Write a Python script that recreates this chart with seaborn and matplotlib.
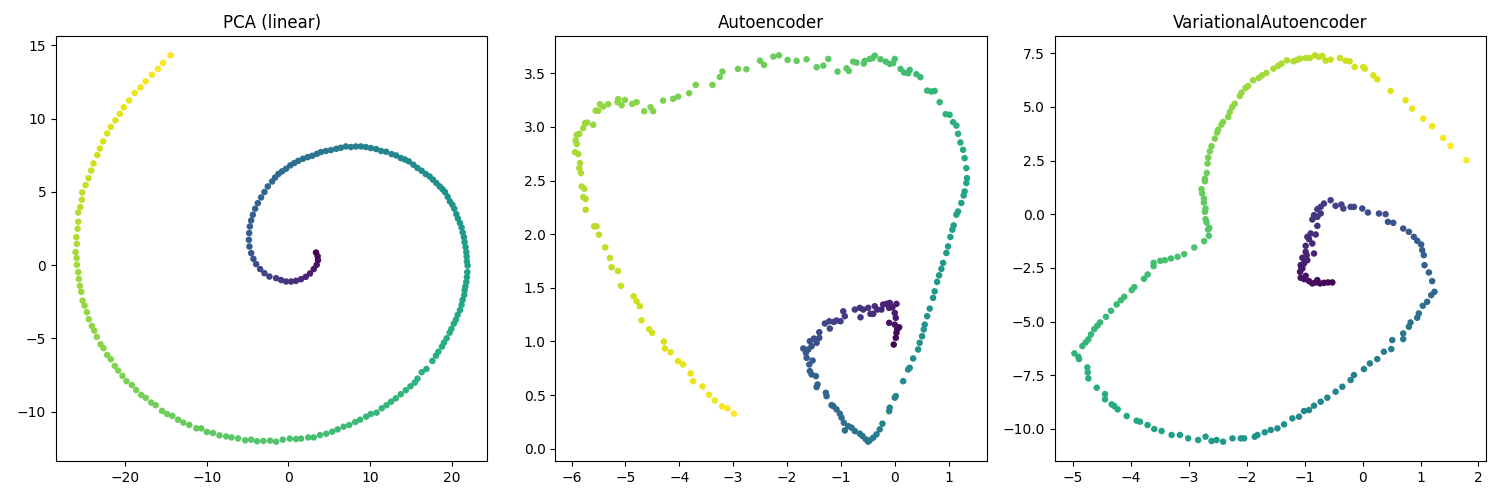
import matplotlib
matplotlib.use("Agg")
import matplotlib.pyplot as plt
import seaborn as sns
import pandas as pd

titles = ["PCA (linear)", "Autoencoder", "VariationalAutoencoder"]

# ---------------- PCA (linear) ----------------
pca_x = [
    -14.43, -15.36, -15.97, -16.70, -17.48, -18.13, -18.83, -19.51, -20.17, -20.66,
    -21.19, -21.76, -22.20, -22.69, -23.10, -23.42, -23.88, -24.16, -24.49, -24.85,
    -25.26, -25.31, -25.50, -25.75, -25.75, -25.83, -25.99, -25.92, -26.08, -25.95,
    -25.92, -25.75, -25.67, -25.55, -25.38, -25.22, -24.98, -24.69, -24.45, -24.08,
    -23.79, -23.47, -23.02, -22.65, -22.20, -21.76, -21.27, -20.86, -20.33, -19.84,
    -19.19, -18.66, -18.04, -17.48, -16.82, -16.26, -15.48, -14.87, -14.22, -13.52,
    -12.87, -12.14, -11.28, -10.67, -9.98, -9.24, -8.44, -7.62, -6.97, -6.15,
    -5.29, -4.56, -3.83, -3.06, -2.24, -1.50, -0.69, 0.17, 0.94, 1.55,
    2.44, 3.11, 3.88, 4.65, 5.38, 6.04, 6.77, 7.46, 8.19, 8.80,
    9.54, 10.11, 10.81, 11.45, 12.03, 12.59, 13.17, 13.78, 14.39, 14.96,
    15.49, 15.82, 16.34, 16.92, 17.65, 18.09, 18.38, 18.83, 19.07, 19.40,
    19.77, 19.98, 20.29, 20.54, 20.75, 21.03, 21.23, 21.36, 21.56, 21.60,
    21.69, 21.81, 21.88, 21.93, 21.97, 21.88, 21.85, 21.81, 21.72, 21.60,
    21.52, 21.36, 21.23, 21.03, 20.78, 20.59, 20.34, 20.10, 19.80, 19.52,
    19.19, 18.88, 18.55, 18.14, 17.73, 17.32, 16.83, 16.34, 15.82, 15.33,
    14.76, 14.27, 13.78, 13.20, 12.64, 11.98, 11.37, 10.76, 10.11, 9.50,
    8.89, 8.28, 7.67, 7.05, 6.44, 5.87, 5.22, 4.61, 4.00, 3.51,
    2.93, 2.37, 1.80, 1.22, 0.73, 0.24, -0.28, -0.77, -1.22, -1.63,
    -1.99, -2.52, -2.93, -3.34, -3.74, -4.07, -4.35, -4.56, -4.72, -4.80,
    -4.84, -4.77, -4.56, -4.28, -3.95, -3.46, -2.93, -2.32, -1.50, -0.89,
    -0.28, 0.33, 0.94, 1.55, 2.13, 2.65, 3.11, 3.47, 3.63, 3.59, 3.39,
]
pca_y = [
    14.32, 13.80, 13.39, 13.00, 12.54, 12.13, 11.75, 11.24, 10.77, 10.33,
    9.88, 9.43, 8.99, 8.44, 7.96, 7.51, 6.94, 6.46, 5.94, 5.46,
    4.96, 4.46, 3.96, 3.59, 2.96, 2.48, 1.91, 1.45, 0.89, 0.48,
    0.02, -0.48, -0.94, -1.41, -1.82, -2.42, -2.76, -3.21, -3.69, -4.15,
    -4.47, -4.90, -5.40, -5.67, -6.13, -6.42, -6.88, -7.20, -7.56, -7.92,
    -8.18, -8.52, -8.86, -9.06, -9.38, -9.56, -9.95, -10.16, -10.29, -10.55,
    -10.75, -10.91, -11.14, -11.14, -11.39, -11.46, -11.62, -11.69, -11.76, -11.83,
    -11.96, -11.91, -12.02, -12.00, -11.98, -12.05, -11.91, -11.84, -11.87, -11.84,
    -11.76, -11.76, -11.60, -11.51, -11.37, -11.21, -11.03, -10.91, -10.71, -10.55,
    -10.34, -10.16, -10.07, -9.77, -9.56, -9.32, -9.09, -8.81, -8.54, -8.27,
    -8.02, -7.75, -7.31, -7.09, -6.54, -6.18, -5.91, -5.56, -5.29, -4.99,
    -4.61, -4.35, -3.99, -3.72, -3.39, -3.07, -2.71, -2.37, -2.03, -1.71,
    -1.46, -1.16, -0.82, -0.48, -0.03, 0.25, 0.59, 0.89, 1.23, 1.57,
    1.91, 2.23, 2.57, 2.87, 3.18, 3.48, 3.85, 4.12, 4.35, 4.67,
    4.99, 5.19, 5.37, 5.60, 5.83, 6.05, 6.22, 6.44, 6.63, 6.85,
    7.08, 7.21, 7.31, 7.49, 7.58, 7.74, 7.79, 7.92, 7.99, 8.06,
    8.10, 8.10, 8.06, 8.10, 8.01, 7.94, 7.85, 7.79, 7.72, 7.60,
    7.46, 7.37, 7.26, 7.12, 6.97, 6.81, 6.58, 6.40, 6.22, 5.98,
    5.71, 5.37, 4.99, 4.62, 4.23, 3.85, 3.44, 3.05, 2.64, 2.19,
    1.73, 1.27, 0.82, 0.43, 0.07, -0.27, -0.55, -0.78, -0.89, -1.02,
    -1.12, -1.12, -1.07, -0.96, -0.80, -0.57, -0.27, 0.02, 0.34, 0.61, 0.86,
]
pca_t = [
    1.000, 0.995, 0.990, 0.986, 0.981, 0.976, 0.971, 0.967, 0.962, 0.957,
    0.952, 0.948, 0.943, 0.938, 0.933, 0.929, 0.924, 0.919, 0.914, 0.910,
    0.905, 0.900, 0.895, 0.890, 0.886, 0.881, 0.876, 0.871, 0.867, 0.862,
    0.857, 0.854, 0.851, 0.848, 0.845, 0.842, 0.839, 0.836, 0.833, 0.830,
    0.827, 0.824, 0.821, 0.818, 0.814, 0.811, 0.808, 0.805, 0.802, 0.799,
    0.796, 0.793, 0.790, 0.787, 0.784, 0.781, 0.778, 0.775, 0.772, 0.769,
    0.766, 0.763, 0.760, 0.757, 0.754, 0.751, 0.748, 0.745, 0.742, 0.739,
    0.736, 0.733, 0.730, 0.727, 0.723, 0.720, 0.717, 0.714, 0.711, 0.708,
    0.705, 0.702, 0.699, 0.696, 0.693, 0.690, 0.687, 0.684, 0.681, 0.678,
    0.675, 0.671, 0.668, 0.665, 0.662, 0.659, 0.656, 0.653, 0.650, 0.647,
    0.644, 0.641, 0.638, 0.635, 0.632, 0.629, 0.626, 0.623, 0.620, 0.617,
    0.614, 0.611, 0.608, 0.605, 0.602, 0.599, 0.596, 0.593, 0.590, 0.587,
    0.583, 0.580, 0.577, 0.574, 0.571, 0.567, 0.564, 0.560, 0.556, 0.552,
    0.549, 0.545, 0.541, 0.537, 0.534, 0.530, 0.526, 0.522, 0.519, 0.515,
    0.511, 0.507, 0.504, 0.500, 0.496, 0.492, 0.489, 0.485, 0.481, 0.477,
    0.474, 0.470, 0.466, 0.462, 0.459, 0.455, 0.451, 0.447, 0.444, 0.440,
    0.436, 0.432, 0.429, 0.424, 0.419, 0.413, 0.408, 0.403, 0.398, 0.393,
    0.388, 0.383, 0.378, 0.373, 0.368, 0.362, 0.357, 0.352, 0.347, 0.342,
    0.337, 0.332, 0.327, 0.322, 0.317, 0.311, 0.306, 0.301, 0.296, 0.291,
    0.286, 0.273, 0.260, 0.247, 0.234, 0.221, 0.208, 0.195, 0.182, 0.169,
    0.156, 0.143, 0.127, 0.111, 0.095, 0.079, 0.064, 0.048, 0.032, 0.016, 0.000,
]

# ---------------- Autoencoder ----------------
ae_x = [
    -2.984, -3.107, -3.207, -3.342, -3.448, -3.570, -3.744, -3.792, -3.930, -4.022,
    -4.163, -4.269, -4.287, -4.504, -4.560, -4.701, -4.732, -4.793, -4.849, -5.084,
    -5.140, -5.257, -5.288, -5.375, -5.492, -5.535, -5.579, -5.739, -5.739, -5.783,
    -5.765, -5.813, -5.826, -5.857, -5.844, -5.876, -5.937, -5.905, -5.924, -5.905,
    -5.857, -5.783, -5.752, -5.709, -5.598, -5.553, -5.505, -5.474, -5.412, -5.320,
    -5.146, -5.134, -5.071, -5.010, -4.875, -4.793, -4.652, -4.534, -4.486, -4.300,
    -4.115, -4.022, -3.818, -3.694, -3.385, -3.249, -3.199, -2.910, -2.754, -2.502,
    -2.428, -2.254, -2.150, -1.989, -1.822, -1.637, -1.451, -1.327, -1.234, -1.062,
    -0.895, -0.853, -0.771, -0.710, -0.575, -0.556, -0.463, -0.413, -0.371, -0.265,
    -0.167, -0.093, -0.030, 0.000, 0.106, 0.174, 0.248, 0.278, 0.402, 0.476,
    0.601, 0.680, 0.741, 0.834, 0.945, 1.019, 1.082, 1.144, 1.175, 1.218,
    1.268, 1.297, 1.329, 1.342, 1.329, 1.297, 1.279, 1.236, 1.175, 1.144,
    1.094, 1.070, 1.032, 0.990, 0.958, 0.897, 0.866, 0.823, 0.786, 0.741,
    0.712, 0.649, 0.601, 0.556, 0.538, 0.508, 0.463, 0.434, 0.341, 0.278,
    0.248, 0.156, 0.019, 0.000, -0.093, -0.104, -0.228, -0.278, -0.339, -0.400,
    -0.463, -0.493, -0.538, -0.599, -0.649, -0.741, -0.803, -0.864, -0.927, -0.945,
    -0.988, -1.019, -1.081, -1.142, -1.173, -1.266, -1.279, -1.451, -1.433, -1.464,
    -1.544, -1.576, -1.587, -1.526, -1.637, -1.650, -1.698, -1.605, -1.544, -1.576,
    -1.501, -1.451, -1.401, -1.401, -1.297, -1.205, -1.216, -1.131, -1.081, -1.007,
    -0.956, -0.927, -0.741, -0.649, -0.636, -0.586, -0.493, -0.451, -0.400, -0.371,
    -0.326, -0.247, -0.215, -0.154, -0.104, -0.093, -0.043, 0.032, 0.000, 0.019,
    -0.104, 0.000, 0.044, 0.082, 0.032, 0.019, -0.019,
]
ae_y = [
    0.326, 0.375, 0.394, 0.450, 0.503, 0.580, 0.629, 0.701, 0.785, 0.816,
    0.899, 0.934, 0.999, 1.080, 1.114, 1.197, 1.328, 1.374, 1.421, 1.518,
    1.657, 1.691, 1.778, 1.877, 1.995, 2.073, 2.073, 2.228, 2.328, 2.346,
    2.424, 2.445, 2.570, 2.616, 2.663, 2.747, 2.765, 2.840, 2.873, 2.926,
    2.936, 2.989, 3.035, 3.041, 3.020, 3.153, 3.150, 3.212, 3.190, 3.212,
    3.231, 3.259, 3.203, 3.252, 3.215, 3.231, 3.147, 3.184, 3.147, 3.246,
    3.262, 3.283, 3.315, 3.392, 3.392, 3.466, 3.516, 3.541, 3.538, 3.618,
    3.578, 3.656, 3.668, 3.625, 3.616, 3.631, 3.557, 3.572, 3.634, 3.516,
    3.547, 3.522, 3.609, 3.600, 3.591, 3.616, 3.634, 3.641, 3.665, 3.631,
    3.609, 3.588, 3.594, 3.634, 3.541, 3.507, 3.501, 3.532, 3.492, 3.464,
    3.339, 3.330, 3.336, 3.231, 3.119, 3.113, 3.045, 3.013, 2.936, 2.855,
    2.787, 2.709, 2.616, 2.523, 2.477, 2.399, 2.361, 2.291, 2.212, 2.182,
    2.082, 2.042, 1.974, 1.886, 1.825, 1.732, 1.676, 1.616, 1.555, 1.467,
    1.406, 1.306, 1.235, 1.157, 1.111, 1.048, 0.987, 0.925, 0.841, 0.754,
    0.738, 0.629, 0.490, 0.475, 0.382, 0.350, 0.233, 0.180, 0.133, 0.102,
    0.077, 0.065, 0.087, 0.117, 0.140, 0.164, 0.196, 0.210, 0.170, 0.242,
    0.289, 0.326, 0.366, 0.397, 0.406, 0.490, 0.521, 0.574, 0.599, 0.676,
    0.692, 0.723, 0.785, 0.822, 0.847, 0.894, 0.934, 0.925, 0.955, 1.002,
    1.027, 0.987, 1.033, 1.086, 1.167, 1.120, 1.188, 1.182, 1.195, 1.188,
    1.281, 1.235, 1.297, 1.313, 1.225, 1.297, 1.313, 1.257, 1.257, 1.328,
    1.297, 1.297, 1.344, 1.350, 1.313, 1.359, 1.318, 1.350, 1.266, 1.220,
    1.173, 1.157, 1.111, 1.132, 1.080, 1.033, 0.971,
]
ae_t = [
    1.000, 0.995, 0.990, 0.985, 0.980, 0.975, 0.970, 0.965, 0.960, 0.955,
    0.950, 0.945, 0.940, 0.937, 0.933, 0.930, 0.927, 0.923, 0.920, 0.917,
    0.913, 0.910, 0.907, 0.903, 0.900, 0.897, 0.893, 0.890, 0.888, 0.885,
    0.883, 0.880, 0.878, 0.875, 0.873, 0.870, 0.868, 0.865, 0.863, 0.860,
    0.858, 0.855, 0.853, 0.850, 0.847, 0.844, 0.842, 0.839, 0.836, 0.833,
    0.830, 0.828, 0.825, 0.822, 0.819, 0.816, 0.814, 0.811, 0.808, 0.805,
    0.802, 0.800, 0.797, 0.794, 0.791, 0.788, 0.786, 0.783, 0.780, 0.777,
    0.774, 0.772, 0.769, 0.766, 0.763, 0.760, 0.758, 0.755, 0.752, 0.749,
    0.746, 0.744, 0.741, 0.738, 0.735, 0.732, 0.730, 0.727, 0.724, 0.721,
    0.718, 0.716, 0.713, 0.710, 0.705, 0.699, 0.694, 0.688, 0.683, 0.677,
    0.672, 0.666, 0.661, 0.655, 0.650, 0.644, 0.639, 0.633, 0.628, 0.622,
    0.617, 0.611, 0.606, 0.600, 0.596, 0.592, 0.588, 0.583, 0.579, 0.575,
    0.571, 0.567, 0.563, 0.558, 0.554, 0.550, 0.546, 0.542, 0.538, 0.533,
    0.529, 0.525, 0.521, 0.517, 0.513, 0.508, 0.504, 0.500, 0.493, 0.486,
    0.479, 0.471, 0.464, 0.457, 0.450, 0.443, 0.436, 0.429, 0.421, 0.414,
    0.407, 0.400, 0.395, 0.390, 0.384, 0.379, 0.374, 0.369, 0.364, 0.358,
    0.353, 0.348, 0.343, 0.338, 0.332, 0.327, 0.322, 0.317, 0.312, 0.306,
    0.301, 0.296, 0.291, 0.286, 0.280, 0.275, 0.270, 0.263, 0.256, 0.249,
    0.242, 0.235, 0.228, 0.222, 0.215, 0.208, 0.201, 0.194, 0.187, 0.180,
    0.174, 0.169, 0.163, 0.158, 0.152, 0.147, 0.141, 0.136, 0.130, 0.124,
    0.119, 0.113, 0.108, 0.102, 0.097, 0.091, 0.086, 0.080, 0.071, 0.062,
    0.053, 0.044, 0.036, 0.027, 0.018, 0.009, 0.000,
]

# ---------------- VariationalAutoencoder ----------------
vae_x = [
    -0.523, -0.598, -0.667, -0.736, -0.810, -0.868, -0.925, -1.011, -1.069, -1.080,
    -1.040, -1.069, -1.011, -1.040, -0.954, -0.983, -0.839, -0.983, -0.868, -0.954,
    -0.897, -0.810, -0.782, -0.868, -0.782, -0.724, -0.782, -0.724, -0.667, -0.552,
    -0.466, -0.367, -0.333, -0.207, -0.149, -0.006, 0.092, 0.282, 0.397, 0.437,
    0.529, 0.701, 0.799, 0.885, 0.943, 1.011, 1.029, 1.057, 1.069, 1.144,
    1.201, 1.241, 1.184, 1.115, 1.040, 0.971, 0.943, 0.828, 0.799, 0.701,
    0.701, 0.512, 0.495, 0.367, 0.253, 0.126, 0.023, -0.149, -0.207, -0.350,
    -0.466, -0.609, -0.724, -0.839, -0.925, -1.011, -1.098, -1.213, -1.356, -1.471,
    -1.586, -1.690, -1.816, -1.862, -2.046, -2.103, -2.247, -2.408, -2.522, -2.609,
    -2.712, -2.839, -3.012, -3.155, -3.298, -3.471, -3.598, -3.713, -3.845, -3.902,
    -4.074, -4.229, -4.288, -4.333, -4.448, -4.448, -4.591, -4.736, -4.747, -4.753,
    -4.897, -4.908, -4.977, -4.839, -4.782, -4.736, -4.690, -4.633, -4.581, -4.534,
    -4.431, -4.345, -4.247, -4.172, -4.115, -3.988, -3.943, -3.776, -3.713, -3.609,
    -3.609, -3.494, -3.414, -3.310, -3.195, -3.081, -2.908, -2.736, -2.655, -2.667,
    -2.649, -2.695, -2.712, -2.724, -2.712, -2.741, -2.741, -2.770, -2.782, -2.724,
    -2.724, -2.690, -2.678, -2.667, -2.638, -2.609, -2.552, -2.512, -2.494, -2.437,
    -2.409, -2.322, -2.293, -2.253, -2.207, -2.121, -2.091, -2.022, -1.977, -1.891,
    -1.793, -1.736, -1.661, -1.540, -1.460, -1.402, -1.310, -1.195, -1.138, -1.080,
    -0.983, -0.908, -0.822, -0.753, -0.695, -0.638, -0.552, -0.391, -0.293, -0.224,
    -0.138, 0.012, 0.040, 0.184, 0.253, 0.483, 0.741, 0.856, 1.046, 1.201,
    1.391, 1.517, 1.793,
    -0.983, -0.782, -1.057, -0.966, -0.925, -0.839,
]
vae_y = [
    -3.180, -3.180, -3.197, -3.227, -3.180, -3.227, -3.119, -3.026, -2.964, -2.686,
    -2.530, -2.374, -2.297, -2.033, -2.142, -1.754, -1.831, -1.474, -1.366, -1.055,
    -0.899, -0.946, -0.543, -0.248, -0.124, 0.031, 0.233, 0.341, 0.497, 0.652,
    0.388, 0.450, 0.264, 0.341, 0.341, 0.264, 0.078, 0.031, 0.000, -0.357,
    -0.403, -0.667, -0.822, -1.055, -1.241, -1.412, -1.676, -1.909, -2.374, -2.716,
    -3.119, -3.615, -3.771, -4.081, -4.267, -4.624, -4.826, -5.043, -5.245, -5.556,
    -5.819, -5.866, -6.285, -6.409, -6.750, -6.952, -7.216, -7.495, -7.728, -8.040,
    -8.271, -8.550, -8.737, -8.923, -9.125, -9.171, -9.435, -9.513, -9.792, -9.978,
    -10.056, -10.164, -10.288, -10.366, -10.444, -10.444, -10.444, -10.599, -10.521, -10.568,
    -10.366, -10.521, -10.444, -10.288, -10.288, -10.102, -10.009, -9.823, -9.668, -9.621,
    -9.404, -9.093, -8.939, -8.861, -8.628, -8.380, -8.085, -7.651, -7.371, -7.139,
    -6.750, -6.641, -6.485, -6.145, -5.975, -5.835, -5.602, -5.354, -5.199, -5.043,
    -4.780, -4.500, -4.205, -4.004, -3.848, -3.538, -3.399, -3.012, -2.809, -2.421,
    -2.266, -2.172, -2.142, -2.064, -1.986, -1.862, -1.552, -1.257, -1.008, -0.714,
    -0.636, -0.388, -0.233, 0.109, 0.264, 0.543, 0.729, 0.962, 1.164, 1.536,
    1.660, 1.924, 2.359, 2.638, 2.933, 3.166, 3.522, 3.801, 3.941, 4.174,
    4.299, 4.530, 4.764, 4.997, 5.152, 5.508, 5.664, 5.881, 5.974, 6.238,
    6.347, 6.471, 6.580, 6.781, 6.906, 7.016, 7.169, 7.123, 7.185, 7.247,
    7.278, 7.278, 7.402, 7.325, 7.371, 7.154, 7.200, 7.278, 7.154, 7.123,
    6.859, 6.859, 6.781, 6.471, 6.285, 5.741, 5.307, 4.919, 4.454, 4.097,
    3.552, 3.180, 2.514,
    -2.871, -3.073, -2.530, -1.909, -1.164, -0.047,
]
vae_t = [
    0.000, 0.006, 0.013, 0.019, 0.025, 0.032, 0.038, 0.045, 0.051, 0.057,
    0.064, 0.070, 0.076, 0.082, 0.088, 0.094, 0.101, 0.107, 0.113, 0.119,
    0.125, 0.131, 0.137, 0.143, 0.149, 0.156, 0.162, 0.168, 0.174, 0.180,
    0.187, 0.193, 0.200, 0.207, 0.213, 0.220, 0.227, 0.233, 0.240, 0.248,
    0.255, 0.263, 0.270, 0.278, 0.285, 0.293, 0.300, 0.308, 0.315, 0.323,
    0.330, 0.337, 0.344, 0.351, 0.358, 0.365, 0.372, 0.379, 0.386, 0.393,
    0.400, 0.405, 0.410, 0.415, 0.420, 0.425, 0.430, 0.435, 0.440, 0.445,
    0.450, 0.455, 0.460, 0.465, 0.470, 0.475, 0.480, 0.485, 0.490, 0.495,
    0.500, 0.506, 0.512, 0.518, 0.523, 0.529, 0.535, 0.541, 0.547, 0.553,
    0.558, 0.564, 0.570, 0.574, 0.578, 0.582, 0.586, 0.590, 0.594, 0.598,
    0.602, 0.606, 0.610, 0.614, 0.618, 0.622, 0.626, 0.630, 0.634, 0.638,
    0.642, 0.646, 0.650, 0.653, 0.655, 0.658, 0.661, 0.664, 0.666, 0.669,
    0.672, 0.675, 0.677, 0.680, 0.683, 0.685, 0.688, 0.691, 0.694, 0.696,
    0.699, 0.702, 0.705, 0.707, 0.710, 0.715, 0.719, 0.724, 0.728, 0.733,
    0.737, 0.742, 0.746, 0.751, 0.755, 0.760, 0.764, 0.768, 0.772, 0.776,
    0.779, 0.783, 0.787, 0.791, 0.795, 0.799, 0.803, 0.807, 0.811, 0.814,
    0.818, 0.822, 0.826, 0.830, 0.834, 0.837, 0.841, 0.844, 0.848, 0.851,
    0.855, 0.858, 0.862, 0.865, 0.869, 0.872, 0.876, 0.879, 0.883, 0.886,
    0.890, 0.894, 0.898, 0.902, 0.905, 0.909, 0.913, 0.917, 0.921, 0.925,
    0.929, 0.932, 0.936, 0.940, 0.947, 0.953, 0.960, 0.967, 0.973, 0.980,
    0.987, 0.993, 1.000,
    0.050, 0.030, 0.065, 0.090, 0.120, 0.155,
]

panels = [
    (pca_x, pca_y, pca_t),
    (ae_x, ae_y, ae_t),
    (vae_x, vae_y, vae_t),
]

fig, axes = plt.subplots(1, 3, figsize=(15, 5), dpi=100)
fig.subplots_adjust(left=0.0373, right=0.9907, bottom=0.078, top=0.928, wspace=0.158)

for ax, (xs, ys, ts), title in zip(axes, panels, titles):
    df = pd.DataFrame({"x": xs, "y": ys, "t": ts})
    sns.scatterplot(data=df, x="x", y="y", hue="t", palette="viridis",
                    s=22, linewidth=0, legend=False, ax=ax)
    ax.set_title(title, fontsize=12)
    ax.set_xlabel("")
    ax.set_ylabel("")

fig.savefig("out.png", dpi=100)
